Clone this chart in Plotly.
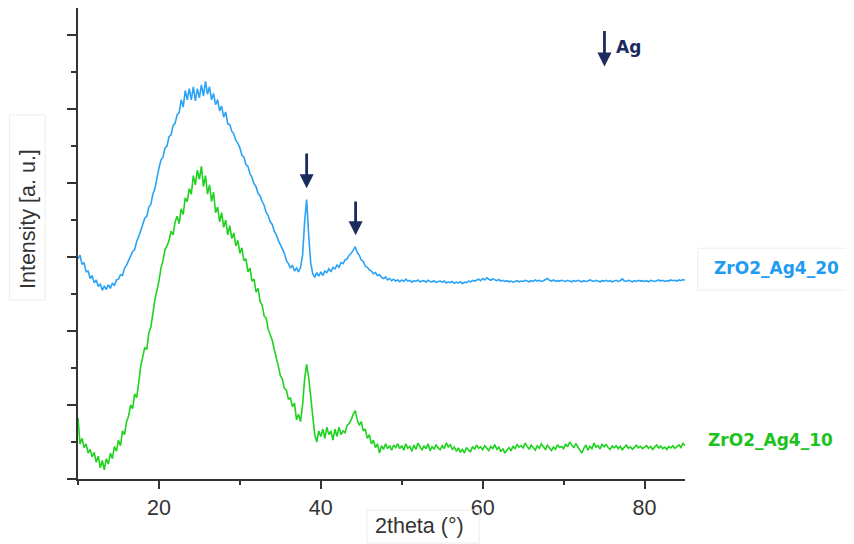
import plotly.graph_objects as go

# scan grid: 10.00 .. 85.00 deg in 0.25 deg steps
two_theta = [round(10 + 0.25 * i, 2) for i in range(301)]

zro2_ag4_20 = [
    5.95, 6.05, 5.8, 5.85, 5.6, 5.62, 5.42, 5.5, 5.3, 5.38, 5.2, 5.28, 5.1, 5.22, 5.12, 5.25, 5.15, 5.3, 5.22, 5.38,
    5.4, 5.52, 5.5, 5.7, 5.78, 5.9, 6.02, 6.15, 6.2, 6.42, 6.55, 6.7, 6.85, 7.05, 7.1, 7.35, 7.42, 7.7, 7.85, 8.15,
    8.4, 8.62, 8.7, 8.95, 9.0, 9.25, 9.3, 9.55, 9.62, 9.85, 9.9, 10.25, 10.05, 10.5, 10.25, 10.55, 10.25, 10.6, 10.22, 10.55,
    10.3, 10.65, 10.35, 10.75, 10.4, 10.6, 10.25, 10.42, 10.12, 10.25, 9.95, 10.08, 9.78, 9.92, 9.6, 9.58, 9.4, 9.33, 9.15, 9.08,
    8.95, 8.75, 8.7, 8.5, 8.45, 8.25, 8.15, 7.98, 7.9, 7.72, 7.65, 7.5, 7.4, 7.2, 7.12, 6.95, 6.88, 6.7, 6.6, 6.45,
    6.35, 6.22, 6.1, 5.9, 5.82, 5.7, 5.78, 5.62, 5.7, 5.6, 5.72, 6.05, 6.95, 7.55, 6.6, 5.85, 5.55, 5.45, 5.58, 5.48,
    5.6, 5.5, 5.62, 5.58, 5.68, 5.6, 5.72, 5.68, 5.78, 5.72, 5.85, 5.82, 5.92, 5.95, 6.05, 6.1, 6.18, 6.28, 6.12, 6.05,
    5.92, 5.88, 5.75, 5.72, 5.65, 5.62, 5.55, 5.58, 5.5, 5.52, 5.45, 5.42, 5.46, 5.38, 5.42, 5.36, 5.4, 5.35, 5.38, 5.33,
    5.38, 5.34, 5.4, 5.35, 5.37, 5.32, 5.36, 5.34, 5.38, 5.33, 5.35, 5.36, 5.32, 5.37, 5.34, 5.33, 5.36, 5.31, 5.34, 5.35,
    5.32, 5.35, 5.3, 5.33, 5.31, 5.34, 5.29, 5.32, 5.3, 5.33, 5.28, 5.32, 5.31, 5.35, 5.33, 5.37, 5.35, 5.38, 5.4, 5.36,
    5.42, 5.38, 5.44, 5.4, 5.37, 5.41, 5.38, 5.36, 5.39, 5.35, 5.37, 5.34, 5.36, 5.33, 5.35, 5.32, 5.34, 5.36, 5.33, 5.35,
    5.34, 5.37, 5.35, 5.33, 5.36, 5.34, 5.38, 5.35, 5.37, 5.34, 5.36, 5.38, 5.42, 5.37, 5.35, 5.38, 5.34, 5.36, 5.35, 5.37,
    5.36, 5.34, 5.37, 5.35, 5.33, 5.36, 5.34, 5.37, 5.35, 5.33, 5.36, 5.34, 5.35, 5.38, 5.36, 5.34, 5.37, 5.35, 5.33, 5.36,
    5.35, 5.37, 5.34, 5.36, 5.33, 5.35, 5.37, 5.34, 5.36, 5.41, 5.36, 5.34, 5.37, 5.35, 5.33, 5.36, 5.34, 5.37, 5.35, 5.36,
    5.34, 5.36, 5.33, 5.37, 5.35, 5.34, 5.36, 5.38, 5.35, 5.37, 5.34, 5.36, 5.35, 5.38, 5.36, 5.37, 5.35, 5.38, 5.36, 5.39,
    5.37,
]

zro2_ag4_10 = [
    1.65, 0.95, 1.1, 0.85, 0.95, 0.7, 0.8, 0.6, 0.72, 0.45, 0.62, 0.3, 0.5, 0.25, 0.55, 0.4, 0.7, 0.55, 0.88, 0.75,
    1.05, 0.9, 1.3, 1.2, 1.55, 1.7, 2.0, 1.9, 2.3, 2.2, 2.6, 3.05, 3.3, 3.55, 3.5, 3.95, 4.1, 4.5, 4.85, 5.1,
    5.35, 5.7, 5.9, 6.2, 6.3, 6.45, 6.7, 6.6, 6.95, 7.1, 6.9, 7.3, 7.15, 7.6, 7.5, 7.85, 7.7, 8.2, 7.95, 8.35,
    8.1, 8.45, 7.9, 8.2, 7.7, 7.95, 7.5, 7.75, 7.2, 7.35, 6.95, 7.2, 6.8, 7.0, 6.6, 6.85, 6.5, 6.65, 6.3, 6.45,
    6.1, 6.25, 5.9, 5.95, 5.6, 5.7, 5.35, 5.4, 5.05, 5.15, 4.8, 4.7, 4.4, 4.35, 4.05, 3.9, 3.75, 3.5, 3.3, 3.05,
    2.8, 2.7, 2.45, 2.4, 2.15, 2.2, 1.95, 2.05, 1.6, 1.75, 1.55, 2.0, 2.7, 3.1, 2.75, 2.2, 1.8, 1.2, 1.0, 1.3,
    1.15, 1.35, 1.1, 1.4, 1.2, 1.3, 1.05, 1.35, 1.15, 1.4, 1.2, 1.3, 1.25, 1.45, 1.5, 1.6, 1.75, 1.85, 1.6, 1.45,
    1.55, 1.3, 1.35, 1.1, 1.2, 0.95, 1.05, 0.85, 0.95, 0.7, 0.9, 0.8, 0.95, 0.82, 0.9, 0.78, 0.92, 0.85, 0.95, 0.82,
    0.9, 0.78, 0.95, 0.83, 0.88, 0.75, 0.92, 0.8, 0.97, 0.86, 0.78, 0.9, 0.82, 0.95, 0.76, 0.88, 0.8, 0.93, 0.84, 0.79,
    0.9, 0.82, 0.98, 0.87, 0.93, 0.8, 0.86, 0.75, 0.84, 0.72, 0.8, 0.7, 0.85, 0.78, 0.74, 0.88, 0.8, 0.92, 0.83, 0.87,
    0.79, 0.9, 0.84, 0.77, 0.88, 0.82, 0.93, 0.8, 0.86, 0.74, 0.82, 0.7, 0.78, 0.85, 0.76, 0.89, 0.81, 0.94, 0.86, 0.9,
    0.84, 0.97, 0.88, 0.8, 0.92, 0.85, 0.78, 0.9, 0.83, 0.95, 0.86, 0.8, 0.91, 0.84, 0.77, 0.86, 0.8, 0.93, 0.85, 0.88,
    0.82, 0.95, 0.87, 1.0, 0.9, 0.84, 0.96, 0.88, 0.8, 0.7, 0.83, 0.92, 0.78, 0.88, 0.82, 0.97, 0.86, 0.9, 0.81, 0.94,
    0.87, 0.93, 0.85, 0.8, 0.89, 0.84, 0.9, 0.82, 0.88, 0.79, 0.86, 0.92, 0.83, 0.87, 0.8, 0.85, 0.91, 0.84, 0.88, 0.82,
    0.86, 0.9, 0.83, 0.88, 0.8, 0.87, 0.92, 0.84, 0.89, 0.82, 0.86, 0.8, 0.88, 0.84, 0.9, 0.83, 0.87, 0.92, 0.85, 0.96,
    0.9,
]

series_names = ["ZrO2_Ag4_20", "ZrO2_Ag4_10"]
x_ticks = [20, 40, 60, 80]
ag_peaks = [38.25, 44.3]

BLUE = "#2AA2F6"
BLUE_TXT = "#1E9BF2"
GREEN = "#1ED21E"
GREEN_TXT = "#1CC31C"
NAVY = "#1C2B5E"
AX = "#333333"
FONT = "Liberation Sans"
BOLD = "DejaVu Sans"

fig = go.Figure()
fig.add_trace(go.Scatter(x=two_theta, y=zro2_ag4_20, mode="lines", name=series_names[0],
                         line=dict(color=BLUE, width=1.6)))
fig.add_trace(go.Scatter(x=two_theta, y=zro2_ag4_10, mode="lines", name=series_names[1],
                         line=dict(color=GREEN, width=1.6)))

annotations = []
# Ag peak arrows
arrow_tops = [(8.84, 7.86), (7.54, 6.59)]
for px, (ytop, ybot) in zip(ag_peaks, arrow_tops):
    annotations.append(dict(x=px, y=ybot, ax=px, ay=ytop, xref="x", yref="y", axref="x", ayref="y",
                            showarrow=True, arrowhead=2, arrowsize=1, arrowwidth=2.8,
                            arrowcolor=NAVY, text=""))
# legend arrow + Ag
annotations.append(dict(x=75.05, y=11.15, ax=75.05, ay=12.15, xref="x", yref="y", axref="x", ayref="y",
                        showarrow=True, arrowhead=2, arrowsize=1, arrowwidth=2.8,
                        arrowcolor=NAVY, text=""))
annotations.append(dict(x=76.2, y=11.68, xref="x", yref="y", text="<b>Ag</b>", showarrow=False,
                        xanchor="left", yanchor="middle", font=dict(family=BOLD, size=17, color=NAVY)))
# series labels
annotations.append(dict(x=1.045, y=5.7, xref="paper", yref="y", text="<b>" + series_names[0] + "</b>",
                        showarrow=False, xanchor="left", yanchor="middle",
                        font=dict(family=BOLD, size=17, color=BLUE_TXT)))
annotations.append(dict(x=1.035, y=1.05, xref="paper", yref="y", text="<b>" + series_names[1] + "</b>",
                        showarrow=False, xanchor="left", yanchor="middle",
                        font=dict(family=BOLD, size=17, color=GREEN_TXT)))
# axis titles
annotations.append(dict(x=-0.0824, y=0.552, xref="paper", yref="paper", text="Intensity [a. u.]",
                        textangle=-90, showarrow=False, xanchor="center", yanchor="middle",
                        font=dict(family=FONT, size=21.5, color=AX)))
annotations.append(dict(x=0.562, y=-0.1, xref="paper", yref="paper", text="2theta (°)",
                        showarrow=False, xanchor="center", yanchor="middle",
                        font=dict(family=FONT, size=21.5, color=AX)))

shapes = [
    dict(type="rect", xref="paper", yref="paper", x0=-0.113, x1=-0.054, y0=0.38, y1=0.773,
         line=dict(color="#EDEDED", width=1)),
    dict(type="rect", xref="paper", yref="paper", x0=0.476, x1=0.661, y0=-0.136, y1=-0.066,
         line=dict(color="#EDEDED", width=1)),
    dict(type="rect", xref="paper", yref="paper", x0=1.021, x1=1.3, y0=0.401, y1=0.49,
         line=dict(color="#EDEDED", width=1)),
]

fig.update_layout(
    width=846, height=536,
    margin=dict(l=70, r=169, t=0, b=65),
    paper_bgcolor="white", plot_bgcolor="white",
    showlegend=False,
    annotations=annotations,
    shapes=shapes,
    xaxis=dict(range=[10, 85], tickvals=x_ticks, ticks="outside", ticklen=8, tickwidth=1.6,
               tickcolor=AX, showline=True, linecolor=AX, linewidth=2, showgrid=False, zeroline=False,
               minor=dict(dtick=10, tick0=0, ticks="outside", ticklen=4, tickwidth=1.6, tickcolor=AX),
               tickfont=dict(family=FONT, size=21.5, color=AX)),
    yaxis=dict(range=[0, 12.73], dtick=2, tick0=0, ticks="outside", ticklen=9, tickwidth=1.6,
               tickcolor=AX, showline=True, linecolor=AX, linewidth=2, showgrid=False, zeroline=False,
               showticklabels=False,
               minor=dict(dtick=1, tick0=0, ticks="outside", ticklen=5, tickwidth=1.6, tickcolor=AX)),
)

fig.write_html("out.html")
